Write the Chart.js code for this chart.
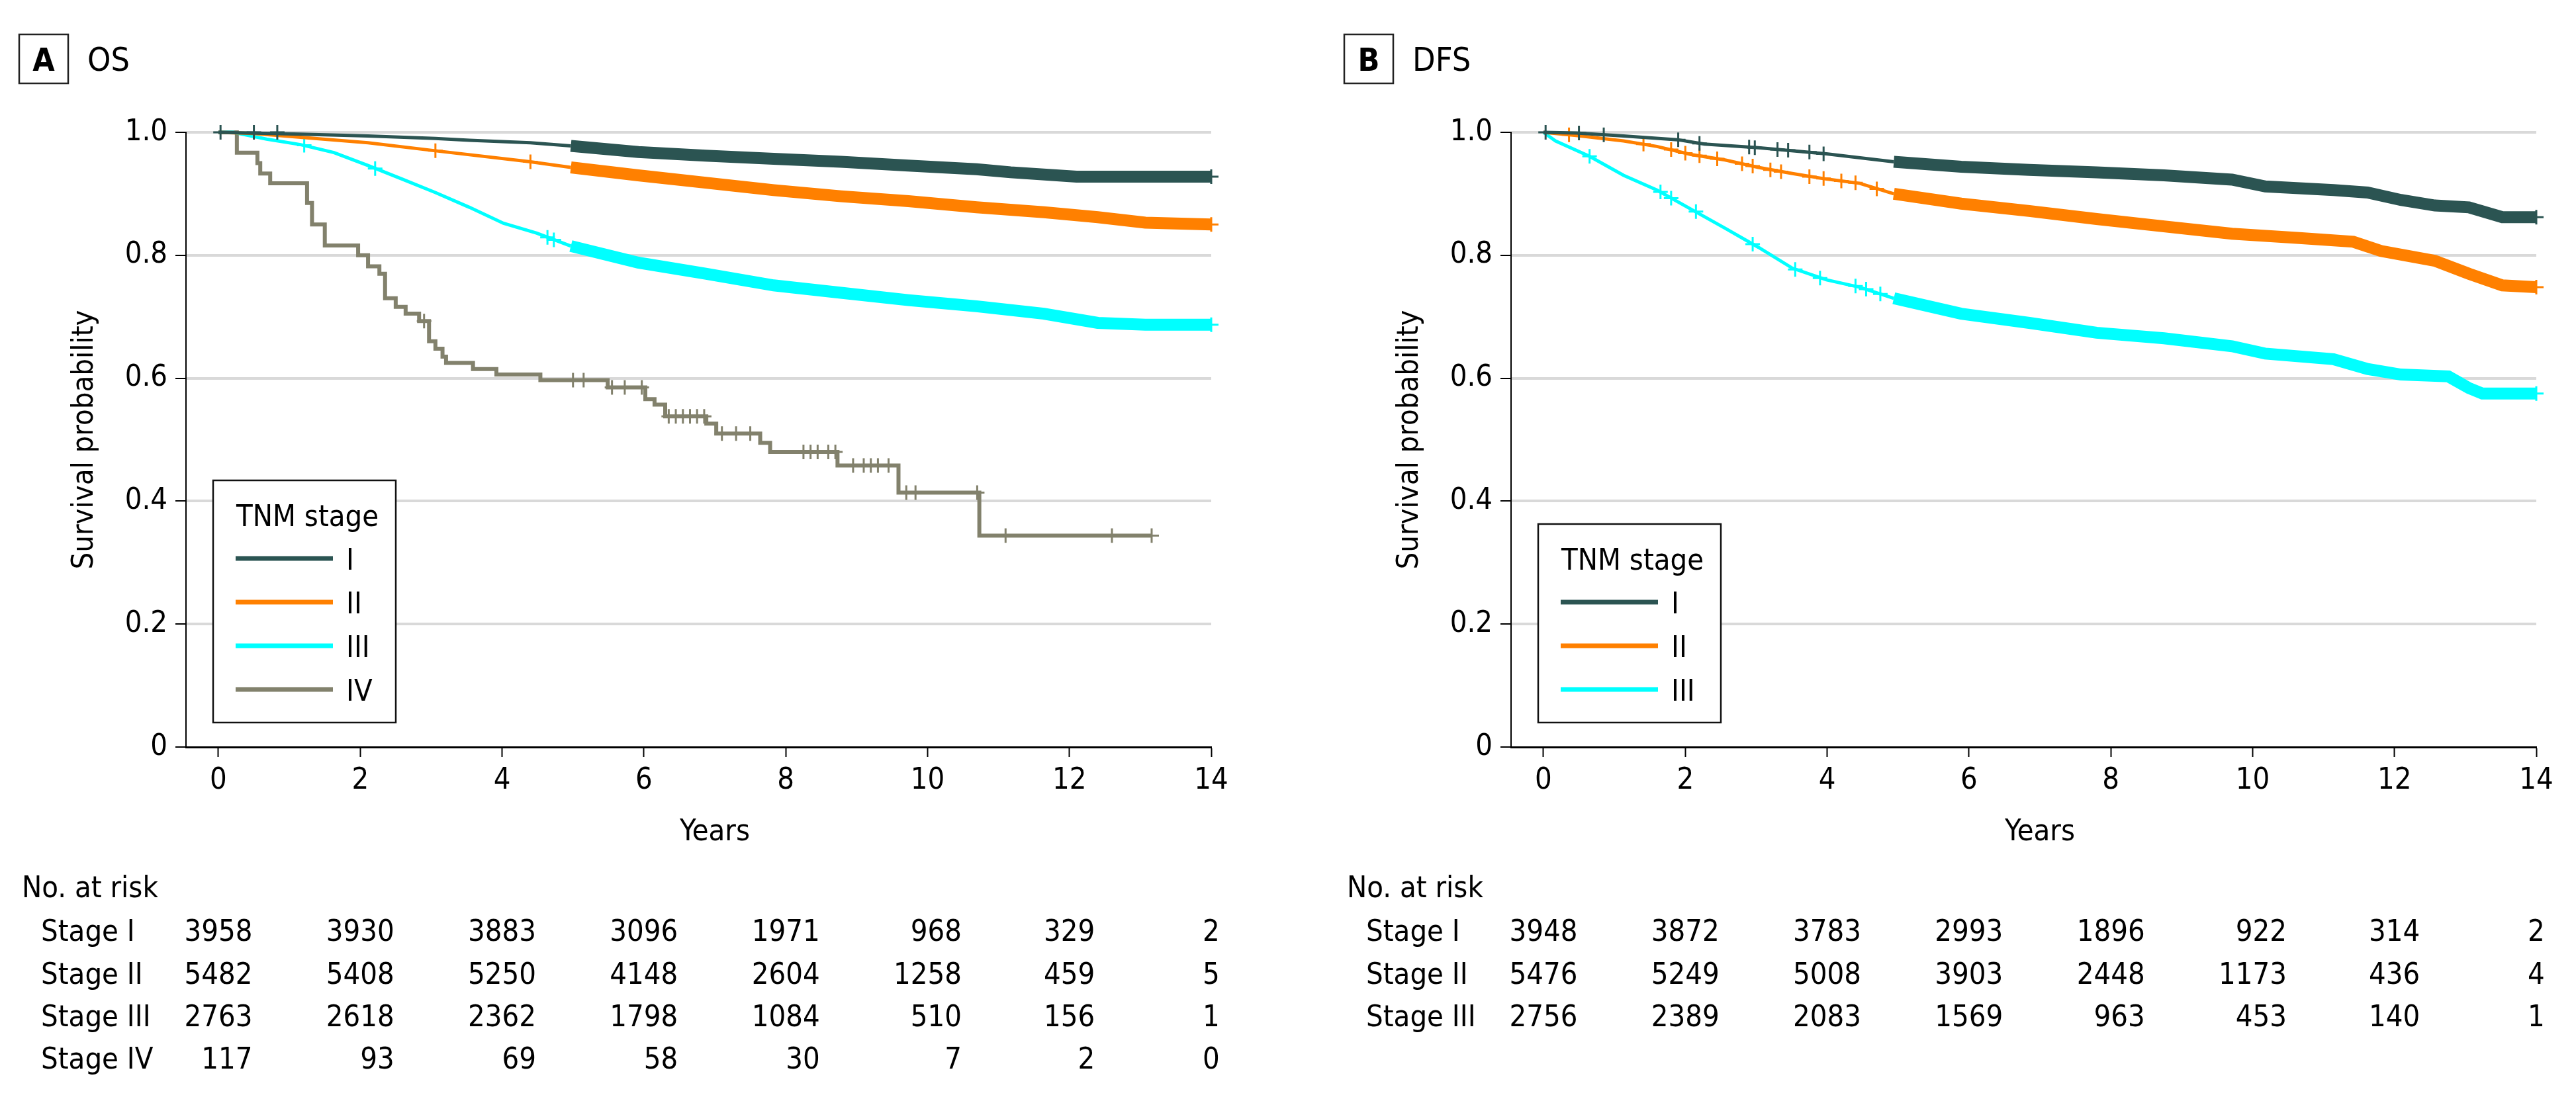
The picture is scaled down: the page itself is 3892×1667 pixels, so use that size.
<!DOCTYPE html>
<html>
<head>
<meta charset="utf-8">
<script src="https://cdn.jsdelivr.net/npm/chart.js@4.4.1/dist/chart.umd.min.js"></script>
<style>
  html, body { margin: 0; padding: 0; background: #fff; }
  canvas { position: absolute; top: 0; }
</style>
</head>
<body>
<canvas class="graf-os" width="2002" height="1667" style="left:0px"></canvas>
<canvas class="graf-dfs" width="1890" height="1667" style="left:2002px"></canvas>
<script>
const xTicks = [0, 2, 4, 6, 8, 10, 12, 14];
const yTicks = [0, 0.2, 0.4, 0.6, 0.8, 1.0];
const stageNames = ['I', 'II', 'III', 'IV'];
const riskRows = ['Stage I', 'Stage II', 'Stage III', 'Stage IV'];
const stageColors = ['#2b5452', '#ff8000', '#00ffff', '#82816c'];

/* OS curves (years, survival) */
const osTime1 = [0, 1.16, 2.11, 3.06, 3.54, 4.40, 4.97, 5.92, 6.87, 7.83, 8.78, 9.73, 10.69, 11.17, 12.10, 14.0];
const osSurv1 = [1.0, 0.997, 0.994, 0.990, 0.987, 0.983, 0.978, 0.968, 0.962, 0.957, 0.952, 0.946, 0.940, 0.935, 0.928, 0.928];
const osTime2 = [0, 0.49, 1.16, 2.11, 3.06, 4.40, 4.97, 5.92, 6.87, 7.83, 8.78, 9.73, 10.69, 11.64, 12.40, 13.07, 14.0];
const osSurv2 = [1.0, 0.998, 0.992, 0.983, 0.970, 0.952, 0.943, 0.930, 0.918, 0.906, 0.896, 0.888, 0.878, 0.870, 0.862, 0.853, 0.850];
const osTime3 = [0, 0.21, 0.68, 1.16, 1.63, 2.11, 2.59, 3.06, 3.54, 4.02, 4.49, 4.97, 5.92, 6.87, 7.83, 8.78, 9.73, 10.69, 11.64, 12.40, 13.07, 14.0];
const osSurv3 = [1.0, 1.0, 0.989, 0.980, 0.967, 0.946, 0.924, 0.902, 0.878, 0.852, 0.836, 0.815, 0.788, 0.770, 0.751, 0.739, 0.727, 0.717, 0.705, 0.690, 0.687, 0.687];
const osTime4 = [0, 0.26, 0.55, 0.59, 0.73, 1.25, 1.32, 1.50, 1.97, 2.11, 2.27, 2.35, 2.50, 2.64, 2.83, 2.97, 3.06, 3.16, 3.21, 3.59, 3.92, 4.54, 5.49, 6.02, 6.15, 6.30, 6.88, 7.02, 7.64, 7.78, 8.73, 9.59, 10.73, 13.16];
const osSurv4 = [1.0, 0.967, 0.950, 0.933, 0.917, 0.885, 0.850, 0.816, 0.800, 0.782, 0.770, 0.730, 0.716, 0.705, 0.693, 0.660, 0.648, 0.635, 0.625, 0.615, 0.606, 0.597, 0.585, 0.566, 0.557, 0.538, 0.526, 0.510, 0.495, 0.480, 0.458, 0.414, 0.344, 0.344];

/* OS censor marks */
const osCensT1 = [0.03, 0.50, 0.83, 14.0];
const osCensS1 = [1.0, 1.0, 1.0, 0.928];
const osCensT2 = [3.06, 4.40, 14.0];
const osCensS2 = [0.970, 0.952, 0.850];
const osCensT3 = [1.21, 2.21, 4.64, 4.73, 14.0];
const osCensS3 = [0.979, 0.941, 0.829, 0.825, 0.687];
const osCensT4 = [2.90, 5.00, 5.15, 5.55, 5.73, 5.97, 6.35, 6.45, 6.55, 6.65, 6.75, 6.85, 7.10, 7.30, 7.50, 8.25, 8.35, 8.45, 8.60, 8.70, 8.95, 9.10, 9.20, 9.30, 9.45, 9.70, 9.83, 10.70, 11.10, 12.60, 13.16];
const osCensS4 = [0.693, 0.597, 0.597, 0.585, 0.585, 0.585, 0.538, 0.538, 0.538, 0.538, 0.538, 0.538, 0.510, 0.510, 0.510, 0.480, 0.480, 0.480, 0.480, 0.480, 0.458, 0.458, 0.458, 0.458, 0.458, 0.414, 0.414, 0.414, 0.344, 0.344, 0.344];

/* DFS curves */
const dfsTime1 = [0, 0.46, 1.13, 1.89, 2.27, 3.03, 3.99, 4.94, 5.89, 6.85, 7.80, 8.75, 9.71, 10.18, 11.14, 11.62, 12.09, 12.57, 13.05, 13.52, 14.0];
const dfsSurv1 = [1.0, 0.999, 0.994, 0.988, 0.981, 0.975, 0.965, 0.952, 0.944, 0.939, 0.935, 0.930, 0.923, 0.912, 0.906, 0.902, 0.890, 0.881, 0.878, 0.862, 0.862];
const dfsTime2 = [0, 0.46, 1.13, 1.60, 2.08, 2.56, 3.03, 3.51, 3.99, 4.46, 4.94, 5.89, 6.85, 7.80, 8.75, 9.71, 10.66, 11.42, 11.81, 12.57, 13.05, 13.52, 14.0];
const dfsSurv2 = [1.0, 0.995, 0.986, 0.977, 0.964, 0.955, 0.943, 0.933, 0.924, 0.917, 0.900, 0.884, 0.872, 0.859, 0.847, 0.835, 0.828, 0.822, 0.807, 0.791, 0.770, 0.751, 0.748];
const dfsTime3 = [0, 0.17, 0.65, 1.13, 1.60, 2.08, 2.56, 3.03, 3.51, 3.99, 4.46, 4.94, 5.89, 6.85, 7.80, 8.75, 9.71, 10.18, 11.14, 11.62, 12.09, 12.76, 13.05, 13.24, 14.0];
const dfsSurv3 = [1.0, 0.986, 0.961, 0.930, 0.906, 0.875, 0.844, 0.813, 0.779, 0.760, 0.748, 0.730, 0.705, 0.690, 0.674, 0.665, 0.652, 0.640, 0.631, 0.615, 0.606, 0.603, 0.584, 0.575, 0.575];

/* DFS censor marks */
const dfsCensT1 = [0.03, 0.50, 0.85, 1.90, 2.20, 2.90, 2.98, 3.30, 3.45, 3.75, 3.95, 14.0];
const dfsCensS1 = [1.0, 0.999, 0.996, 0.988, 0.982, 0.976, 0.975, 0.972, 0.971, 0.968, 0.965, 0.862];
const dfsCensT2 = [0.36, 1.41, 1.80, 2.00, 2.20, 2.45, 2.80, 2.95, 3.20, 3.35, 3.75, 3.95, 4.20, 4.40, 4.70, 14.0];
const dfsCensS2 = [0.996, 0.981, 0.972, 0.966, 0.962, 0.957, 0.949, 0.945, 0.939, 0.936, 0.928, 0.925, 0.921, 0.918, 0.908, 0.748];
const dfsCensT3 = [0.65, 1.65, 1.80, 2.15, 2.95, 3.55, 3.90, 4.40, 4.55, 4.75, 14.0];
const dfsCensS3 = [0.961, 0.903, 0.893, 0.871, 0.818, 0.777, 0.763, 0.750, 0.745, 0.737, 0.575];

/* No. at risk */
const osRisk1 = [3958, 3930, 3883, 3096, 1971, 968, 329, 2];
const osRisk2 = [5482, 5408, 5250, 4148, 2604, 1258, 459, 5];
const osRisk3 = [2763, 2618, 2362, 1798, 1084, 510, 156, 1];
const osRisk4 = [117, 93, 69, 58, 30, 7, 2, 0];
const dfsRisk1 = [3948, 3872, 3783, 2993, 1896, 922, 314, 2];
const dfsRisk2 = [5476, 5249, 5008, 3903, 2448, 1173, 436, 4];
const dfsRisk3 = [2756, 2389, 2083, 1569, 963, 453, 140, 1];

const FONT = "'DejaVu Sans Condensed', 'Liberation Sans Narrow', 'DejaVu Sans', sans-serif";
const BAND_FROM = 4.9;   // dense censoring turns the curves into a thick band from here

Chart.defaults.font.family = FONT;
Chart.defaults.font.size = 45;
Chart.defaults.color = '#000';

/* panel letter, legend box, axis title and risk table -------------------------------- */
const panelDecor = {
    id: 'panelDecor',
    afterDraw(chart, args, o) {
        const ctx = chart.ctx;
        const xs = chart.scales.x;
        ctx.save();
        ctx.fillStyle = '#000';
        ctx.textBaseline = 'alphabetic';

        ctx.strokeStyle = '#222';
        ctx.lineWidth = 2.5;
        ctx.strokeRect(29, 52, 74, 74);
        ctx.textAlign = 'center';
        ctx.font = 'bold 48px ' + FONT;
        ctx.fillText(o.letter, 66, 107);
        ctx.textAlign = 'left';
        ctx.font = '50px ' + FONT;
        ctx.fillText(o.title, 132, 107);

        ctx.font = '45px ' + FONT;
        ctx.textAlign = 'center';
        ctx.fillText('Years', (xs.getPixelForValue(0) + xs.getPixelForValue(14)) / 2, 1270);

        // legend
        const n = o.risk.length;
        const bottom = 1092, top = bottom - 102 - 66 * n;
        ctx.fillStyle = '#fff';
        ctx.fillRect(322, top, 276, bottom - top);
        ctx.strokeStyle = '#111';
        ctx.lineWidth = 2.5;
        ctx.strokeRect(322, top, 276, bottom - top);
        ctx.fillStyle = '#000';
        ctx.textAlign = 'left';
        ctx.fillText('TNM stage', 357, top + 69);
        for (let i = 0; i < n; i++) {
            const cy = top + 118 + 66 * i;
            ctx.strokeStyle = stageColors[i];
            ctx.lineWidth = 7;
            ctx.beginPath();
            ctx.moveTo(356, cy);
            ctx.lineTo(503, cy);
            ctx.stroke();
            ctx.fillText(stageNames[i], 523, cy + 17);
        }

        // risk table
        const rowY = [1422, 1487, 1551, 1615];
        ctx.fillText('No. at risk', 33, 1356);
        o.risk.forEach((row, i) => ctx.fillText(riskRows[i], 62, rowY[i]));
        ctx.textAlign = 'right';
        xTicks.forEach((t, j) => {
            const w = Math.max(...o.risk.map(r => ctx.measureText(String(r[j])).width));
            const right = xs.getPixelForValue(t) + w / 2;
            o.risk.forEach((r, i) => ctx.fillText(String(r[j]), right, rowY[i]));
        });
        ctx.restore();
    }
};

function curveSet(t, s, color, banded) {
    const ds = {
        data: t.map((x, i) => ({ x: x, y: s[i] })),
        borderColor: color,
        borderWidth: banded ? 5 : 6,
        stepped: !banded,
        pointRadius: 0,
        borderCapStyle: 'butt',
        clip: false
    };
    if (banded) {
        ds.segment = { borderWidth: c => c.p0.parsed.x >= BAND_FROM ? 18 : 5 };
    }
    return ds;
}

function censorSet(t, s, color) {
    return {
        data: t.map((x, i) => ({ x: x, y: s[i] })),
        showLine: false,
        pointStyle: 'cross',
        pointRadius: 11,
        pointBorderWidth: 3,
        pointBorderColor: color,
        borderColor: color,
        clip: false
    };
}

function kmOptions(canvasWidth, decor) {
    return {
        responsive: false,
        animation: false,
        layout: { padding: { left: 0, top: 200, right: canvasWidth - 1830, bottom: 388 } },
        plugins: { legend: { display: false }, tooltip: { enabled: false }, panelDecor: decor },
        scales: {
            x: {
                type: 'linear',
                min: -0.4573,
                max: 14,
                afterFit: s => { s.height = 150; },
                afterBuildTicks: s => { s.ticks = xTicks.map(v => ({ value: v })); },
                ticks: { padding: 9, maxRotation: 0, autoSkip: false },
                grid: { drawOnChartArea: false, drawTicks: true, tickLength: 15, tickColor: '#000', tickWidth: 2 },
                border: { color: '#000', width: 3 }
            },
            y: {
                min: 0,
                max: 1,
                afterFit: s => { s.width = 281; },
                afterBuildTicks: s => { s.ticks = yTicks.map(v => ({ value: v })); },
                ticks: { padding: 12, callback: v => v === 0 ? '0' : v.toFixed(1) },
                grid: {
                    color: c => (c.tick && c.tick.value === 0) ? 'rgba(0,0,0,0)' : '#d9d9d9',
                    lineWidth: 4,
                    tickColor: '#000',
                    tickWidth: 2,
                    tickLength: 16
                },
                border: { color: '#000', width: 2 },
                title: { display: true, text: 'Survival probability', padding: { top: 101, bottom: 0 } }
            }
        }
    };
}

/* Painel A - OS ---------------------------------------------------------------------- */
const ctx = document.querySelector('.graf-os');
let myChart = new Chart(ctx, {
    type: 'line',
    data: {
        datasets: [
            curveSet(osTime1, osSurv1, stageColors[0], true),
            censorSet(osCensT1, osCensS1, stageColors[0]),
            curveSet(osTime2, osSurv2, stageColors[1], true),
            censorSet(osCensT2, osCensS2, stageColors[1]),
            curveSet(osTime3, osSurv3, stageColors[2], true),
            censorSet(osCensT3, osCensS3, stageColors[2]),
            curveSet(osTime4, osSurv4, stageColors[3], false),
            censorSet(osCensT4, osCensS4, stageColors[3])
        ]
    },
    options: kmOptions(2002, { letter: 'A', title: 'OS', risk: [osRisk1, osRisk2, osRisk3, osRisk4] }),
    plugins: [panelDecor]
});

/* Painel B - DFS --------------------------------------------------------------------- */
const ctx2 = document.querySelector('.graf-dfs');
let myChart2 = new Chart(ctx2, {
    type: 'line',
    data: {
        datasets: [
            curveSet(dfsTime1, dfsSurv1, stageColors[0], true),
            censorSet(dfsCensT1, dfsCensS1, stageColors[0]),
            curveSet(dfsTime2, dfsSurv2, stageColors[1], true),
            censorSet(dfsCensT2, dfsCensS2, stageColors[1]),
            curveSet(dfsTime3, dfsSurv3, stageColors[2], true),
            censorSet(dfsCensT3, dfsCensS3, stageColors[2])
        ]
    },
    options: kmOptions(1890, { letter: 'B', title: 'DFS', risk: [dfsRisk1, dfsRisk2, dfsRisk3] }),
    plugins: [panelDecor]
});
</script>
</body>
</html>
